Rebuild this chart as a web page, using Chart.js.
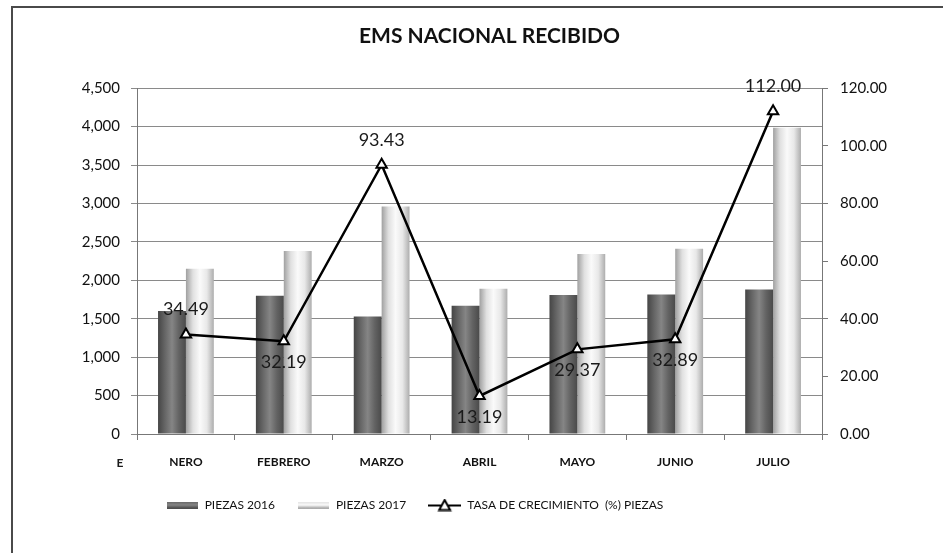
<!DOCTYPE html>
<html lang="es">
<head>
    <meta charset="UTF-8">
    <title>EMS Nacional Recibido</title>
    <style>
        html, body { margin: 0; padding: 0; background: #ffffff; }
        #wrap { width: 943px; height: 553px; }
    </style>
</head>
<body>
    <div id="wrap">
        <canvas id="myChart" width="943" height="553"></canvas>
    </div>

    <script src="https://cdn.jsdelivr.net/npm/chart.js@4.4.1/dist/chart.umd.min.js"></script>

    <script>
        // data
        var months = ['NERO', 'FEBRERO', 'MARZO', 'ABRIL', 'MAYO', 'JUNIO', 'JULIO'];
        var piezas2016 = [1600, 1800, 1530, 1670, 1810, 1815, 1880];
        var piezas2017 = [2152, 2380, 2960, 1890, 2342, 2412, 3986];
        var tasa = [34.49, 32.19, 93.43, 13.19, 29.37, 32.89, 112.00];
        var leftTicks = [0, 500, 1000, 1500, 2000, 2500, 3000, 3500, 4000, 4500];
        var rightTicks = [0, 20, 40, 60, 80, 100, 120];

        var FONT = 'Lato, "Open Sans", sans-serif';
        var catPct = 0.57;

        // cylinder-ish shading for the bars
        var darkStops = ['#454545', '#666666', '#858585', '#636363', '#4a4a4a'];
        var lightStops = ['#a0a0a0', '#e0e0e0', '#fafafa', '#e8e8e8', '#adadad'];

        function barFill(context, stops, side) {
            var chart = context.chart;
            var xs = chart.scales.x;
            if (!xs || !xs.width) return stops[2];
            var w = (xs.width / months.length) * catPct / 2;
            var c = xs.getPixelForValue(context.dataIndex);
            var x0 = side < 0 ? c - w : c;
            var g = chart.ctx.createLinearGradient(x0, 0, x0 + w, 0);
            for (var i = 0; i < stops.length; i++) {
                g.addColorStop(i / (stops.length - 1), stops[i]);
            }
            return g;
        }

        // small swatches for the legend
        function swatch(stops) {
            var c = document.createElement('canvas');
            c.width = 31; c.height = 7;
            var x = c.getContext('2d');
            var g = x.createLinearGradient(0, 0, 0, 7);
            g.addColorStop(0, stops[1]); g.addColorStop(0.5, stops[2]); g.addColorStop(1, stops[0]);
            x.fillStyle = g;
            x.fillRect(0, 0, 31, 7);
            return c;
        }
        function lineSwatch() {
            var c = document.createElement('canvas');
            c.width = 33; c.height = 13;
            var x = c.getContext('2d');
            x.strokeStyle = '#000'; x.lineWidth = 2;
            x.beginPath(); x.moveTo(0, 7); x.lineTo(33, 7); x.stroke();
            x.fillStyle = '#fff';
            x.beginPath(); x.moveTo(16.5, 1.5); x.lineTo(22, 11.5); x.lineTo(11, 11.5); x.closePath();
            x.fill(); x.stroke();
            return c;
        }

        var frame = {
            id: 'frame',
            beforeDraw: function (chart) {
                var ctx = chart.ctx;
                ctx.save();
                ctx.fillStyle = '#ffffff';
                ctx.fillRect(0, 0, chart.width, chart.height);
                ctx.strokeStyle = '#4a4a4a';
                ctx.lineWidth = 2;
                ctx.beginPath();
                ctx.moveTo(12, chart.height);
                ctx.lineTo(12, 7);
                ctx.lineTo(chart.width, 7);
                ctx.stroke();
                ctx.restore();
            }
        };

        // the legend sits left of centre and the title a bit right of it
        var nudge = {
            id: 'nudge',
            afterLayout: function (chart) {
                chart.legend.left -= 57;
                chart.legend.right -= 57;
                chart.titleBlock.left += 10;
                chart.titleBlock.right += 10;
            }
        };

        // value labels on the growth line + stray "E" of the first month
        var labelsAbove = [true, false, true, false, false, false, true];
        var valueLabels = {
            id: 'valueLabels',
            afterDatasetsDraw: function (chart) {
                var ctx = chart.ctx;
                var meta = chart.getDatasetMeta(2);
                ctx.save();
                ctx.font = '18px ' + FONT;
                ctx.fillStyle = '#1a1a1a';
                ctx.textAlign = 'center';
                ctx.textBaseline = 'middle';
                meta.data.forEach(function (pt, i) {
                    var dy = labelsAbove[i] ? -25 : 21;
                    ctx.fillText(tasa[i].toFixed(2), pt.x, pt.y + dy);
                });
                var xs = chart.scales.x;
                ctx.font = 'bold 12px ' + FONT;
                ctx.fillText('E', chart.chartArea.left - 17, xs.top + 29);
                ctx.restore();
            }
        };

        var ctx = document.getElementById('myChart').getContext('2d');
        new Chart(ctx, {
            type: 'bar',
            data: {
                labels: months,
                datasets: [
                    {
                        label: 'PIEZAS 2016',
                        data: piezas2016,
                        yAxisID: 'y',
                        order: 1,
                        backgroundColor: function (c) { return barFill(c, darkStops, -1); },
                        pointStyle: swatch(darkStops),
                        categoryPercentage: catPct,
                        barPercentage: 1.0
                    },
                    {
                        label: 'PIEZAS 2017',
                        data: piezas2017,
                        yAxisID: 'y',
                        order: 1,
                        backgroundColor: function (c) { return barFill(c, lightStops, 1); },
                        pointStyle: swatch(lightStops),
                        categoryPercentage: catPct,
                        barPercentage: 1.0
                    },
                    {
                        type: 'line',
                        label: 'TASA DE CRECIMIENTO  (%) PIEZAS',
                        data: tasa,
                        yAxisID: 'y1',
                        order: 0,
                        borderColor: '#000000',
                        borderWidth: 2.5,
                        tension: 0,
                        pointStyle: 'triangle',
                        pointRadius: 6,
                        pointBackgroundColor: '#ffffff',
                        pointBorderColor: '#000000',
                        pointBorderWidth: 2
                    }
                ]
            },
            options: {
                responsive: false,
                animation: false,
                layout: { padding: { top: 0, left: 0, right: 0, bottom: 32 } },
                plugins: {
                    title: {
                        display: true,
                        text: 'EMS NACIONAL RECIBIDO',
                        fullSize: false,
                        color: '#111111',
                        font: { family: FONT, size: 21, weight: 'bold' },
                        padding: { top: 24, bottom: 39 }
                    },
                    legend: {
                        position: 'bottom',
                        labels: {
                            usePointStyle: true,
                            pointStyleWidth: 33,
                            padding: 22,
                            color: '#111111',
                            font: { family: FONT, size: 12 },
                            sort: function (a, b) { return a.datasetIndex - b.datasetIndex; },
                            generateLabels: function (chart) {
                                var items = Chart.defaults.plugins.legend.labels.generateLabels(chart);
                                items.forEach(function (it) {
                                    if (it.datasetIndex === 2) it.pointStyle = lineSwatch();
                                    else it.pointStyle = chart.data.datasets[it.datasetIndex].pointStyle;
                                });
                                return items;
                            }
                        }
                    },
                    tooltip: { enabled: false }
                },
                scales: {
                    x: {
                        grid: { offset: true, drawOnChartArea: false, drawTicks: true, tickLength: 6, color: '#777777' },
                        border: { color: '#777777' },
                        ticks: { color: '#111111', padding: 15, font: { family: FONT, size: 12, weight: 'bold' } },
                        afterFit: function (s) { s.height = 43; }
                    },
                    y: {
                        position: 'left',
                        min: 0,
                        max: 4500,
                        afterBuildTicks: function (s) { s.ticks = leftTicks.map(function (v) { return { value: v }; }); },
                        grid: { color: '#8a8a8a', lineWidth: 1, tickLength: 6 },
                        border: { color: '#777777' },
                        ticks: {
                            color: '#111111',
                            padding: 11,
                            font: { family: FONT, size: 15 },
                            callback: function (v) { return v.toLocaleString('en-US'); }
                        },
                        afterFit: function (s) { s.width = 137; }
                    },
                    y1: {
                        position: 'right',
                        min: 0,
                        max: 120,
                        afterBuildTicks: function (s) { s.ticks = rightTicks.map(function (v) { return { value: v }; }); },
                        grid: { drawOnChartArea: false, tickLength: 6, color: '#777777' },
                        border: { color: '#777777' },
                        ticks: {
                            color: '#111111',
                            padding: 12,
                            font: { family: FONT, size: 15 },
                            callback: function (v) { return Number(v).toFixed(2); }
                        },
                        afterFit: function (s) { s.width = 121; }
                    }
                }
            },
            plugins: [frame, nudge, valueLabels]
        });
    </script>
</body>
</html>
